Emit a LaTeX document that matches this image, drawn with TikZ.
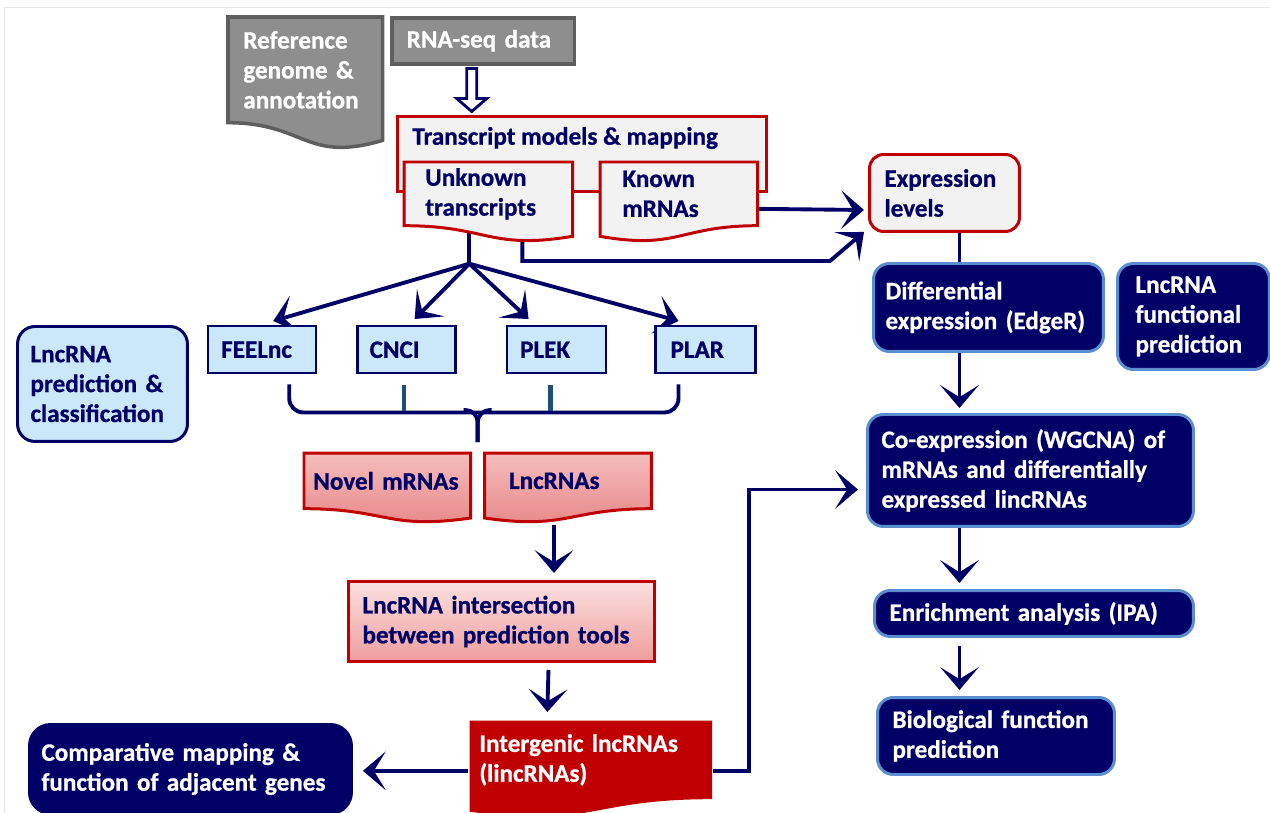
\documentclass[tikz,border=0pt]{standalone}
\usepackage{fontspec}
\setmainfont{Carlito}[BoldFeatures={FakeBold=0.8}]
\hyphenpenalty=10000
\exhyphenpenalty=10000
\definecolor{lnnavy}{HTML}{000066}
\definecolor{lnred}{HTML}{C00000}
\definecolor{lnpaper}{HTML}{F2F2F2}
\definecolor{lngray}{HTML}{8E8E8E}
\definecolor{lngrayline}{HTML}{5E5E5E}
\definecolor{lnsky}{HTML}{CBE8FB}
\definecolor{lnedge}{HTML}{5A8ED0}
\definecolor{lnpinktop}{HTML}{F4BDBD}
\definecolor{lnpinkbot}{HTML}{E78585}
\definecolor{lnrosetop}{HTML}{FBE0E0}
\definecolor{lnrosebot}{HTML}{EE9C9C}
\definecolor{lntick}{HTML}{1F4E79}
\usetikzlibrary{arrows.meta,positioning,calc}

\pgfdeclarelayer{back}
\pgfdeclarelayer{docs}
\pgfsetlayers{back,docs,main}

% document shape, right end lower
\newcommand\docwaveR[2]{%
  \path[#2] let \p1=(#1.north west), \p2=(#1.south east), \n1={\y1-\y2} in
    (\x1,\y1) -- (\x2,\y1) -- (\x2,{\y2-0.167*\n1})
    .. controls ({0.5*\x1+0.5*\x2},{\y2-0.384*\n1}) and ({0.5*\x1+0.5*\x2},\y2) .. (\x1,\y2) -- cycle;}
% document shape, left end lower
\newcommand\docwaveL[2]{%
  \path[#2] let \p1=(#1.north west), \p2=(#1.south east), \n1={\y1-\y2} in
    (\x1,\y1) -- (\x2,\y1) -- (\x2,\y2)
    .. controls ({0.5*\x1+0.5*\x2},\y2) and ({0.5*\x1+0.5*\x2},{\y2-0.384*\n1}) .. (\x1,{\y2-0.167*\n1}) -- cycle;}

\begin{document}
\begin{tikzpicture}[
  x=0.02cm, y=-0.02cm,
  box/.style={anchor=north west, inner ysep=0pt, align=left,
    font=\fontsize{14.3}{17}\selectfont\bfseries, text=lnnavy},
  graybox/.style={box, draw=lngrayline, fill=lngray, line width=2pt, text=white},
  light/.style={box, draw=lnred, fill=lnpaper, line width=1.7pt},
  tool/.style={box, draw=lnnavy, fill=lnsky, line width=1.4pt, minimum height=0.94cm},
  dark/.style={box, draw=lnedge, fill=lnnavy, text=white, line width=1.7pt, rounded corners=9pt},
  doctext/.style={box, draw=none},
  wire/.style={draw=lnnavy, line width=2.2pt},
  arr/.style={wire, arrows={-Stealth[length=13pt,width=22pt,inset=6.8pt]}},
  hollow/.style={draw=lnnavy, fill=white, line width=1.6pt},
  tick/.style={draw=lntick, line width=2.4pt}
]
  \useasboundingbox (0,0) rectangle (1270,812);
  \draw[gray!20] (4,7) rectangle (1290,830);

  % Inputs
  \node[doctext, text=white, text width=2.48cm, inner xsep=0.3cm, minimum height=2.1cm] (ref) at (228,17)
    {Reference\\genome \&\\annotation};
  \node[graybox, text width=3.06cm, inner xsep=0.3cm, minimum height=0.92cm] (rna) at (390,16) {RNA-seq data};

  % Mapping
  \begin{pgfonlayer}{back}
    \node[light, minimum width=7.38cm, minimum height=1.5cm, inner sep=0pt] (tm) at (396,115) {};
  \end{pgfonlayer}
  \node[box, anchor=west, inner sep=0pt] (tmt) at (412,138) {Transcript models \& mapping};
  \node[doctext, text width=2.52cm, inner xsep=0.42cm, minimum height=1.26cm] (unk) at (404,162)
    {Unknown\\transcripts};
  \node[doctext, text width=2.26cm, inner xsep=0.44cm, minimum height=1.26cm] (kno) at (600,162)
    {Known\\mRNAs};
  \node[light, rounded corners=8pt, text width=2.4cm, inner xsep=0.3cm, minimum height=1.54cm] (expr) at (868,153)
    {Expression\\levels};

  % Prediction tools
  \node[box, draw=lnnavy, fill=lnsky, line width=1.7pt, rounded corners=10pt, text width=2.88cm,
    inner xsep=0.26cm, minimum height=2.3cm] (lpc) at (16,325) {LncRNA\\prediction \&\\classification};
  \node[tool, text width=1.64cm, inner xsep=0.26cm] (feel) at (207,325) {FEELnc};
  \node[tool, text width=1.48cm, inner xsep=0.24cm, right=0.78cm of feel] (cnci) {CNCI};
  \node[tool, text width=1.46cm, inner xsep=0.26cm, right=0.98cm of cnci] (plek) {PLEK};
  \node[tool, text width=1.4cm, inner xsep=0.3cm, right=0.94cm of plek] (plar) {PLAR};

  % Classified transcripts
  \node[doctext, text width=2.96cm, inner xsep=0.18cm, minimum height=1.1cm] (novel) at (304,453) {Novel mRNAs};
  \node[doctext, text width=2.36cm, inner xsep=0.48cm, minimum height=1.1cm, right=0.28cm of novel] (lnc) {LncRNAs};
  \node[box, draw=lnred, line width=1.7pt, top color=lnrosetop, bottom color=lnrosebot, text width=5.56cm,
    inner xsep=0.28cm, minimum height=1.6cm] (inter) at (347,580) {LncRNA intersection\\between prediction tools};
  \node[doctext, text=white, text width=4.46cm, inner xsep=0.16cm, minimum height=1.5cm] (ilnc) at (471,722)
    {Intergenic lncRNAs\\(lincRNAs)};
  \node[dark, draw=lnnavy, rounded corners=12pt, text width=5.96cm, inner xsep=0.24cm, minimum height=1.78cm] (comp) at (28,723)
    {Comparative mapping \&\\function of adjacent genes};

  % Expression analysis
  \node[dark, text width=4.12cm, inner xsep=0.24cm, minimum height=1.76cm] (dif) at (872,262)
    {Differential\\expression (EdgeR)};
  \node[dark, text width=2.32cm, inner xsep=0.36cm, minimum height=2.12cm] (lfp) at (1116,262)
    {LncRNA\\functional\\prediction};
  \node[dark, text width=5.96cm, inner xsep=0.28cm, minimum height=2.24cm] (coe) at (866,413)
    {Co-expression (WGCNA) of\\mRNAs and differentially\\expressed lincRNAs};
  \node[dark, text width=5.78cm, inner xsep=0.3cm, minimum height=0.92cm] (enr) at (873,589)
    {Enrichment analysis (IPA)};
  \node[dark, text width=4.14cm, inner xsep=0.3cm, minimum height=1.54cm] (bio) at (876,696)
    {Biological function\\prediction};

  % Document outlines
  \begin{pgfonlayer}{docs}
    \docwaveR{ref}{draw=lngrayline, fill=lngray, line width=2pt}
    \docwaveR{unk}{draw=lnred, fill=lnpaper, line width=1.7pt}
    \docwaveL{kno}{draw=lnred, fill=lnpaper, line width=1.7pt}
    \docwaveR{novel}{draw=lnred, top color=lnpinktop, bottom color=lnpinkbot, line width=1.7pt}
    \docwaveL{lnc}{draw=lnred, top color=lnpinktop, bottom color=lnpinkbot, line width=1.7pt}
    \docwaveL{ilnc}{draw=lnred, fill=lnred, line width=1.7pt}
  \end{pgfonlayer}

  % Connectors
  \begin{pgfonlayer}{back}
    \draw[hollow] ($(rna.south)+(-16.5,3)$) -- ++(0,30) -- ++(-10,0) -- ++(15,13) -- ++(15,-13)
      -- ++(-10,0) -- ++(0,-30) -- cycle;
    \draw[arr] ($(kno.east)+(0,15)$) -- ($(expr.west)+(-4,17)$);
    \draw[arr] ($(unk.south)+(34,0)$) |- ($(expr.south west)+(-38,28)$) -- ($(expr.south west)+(-4,-1)$);

    \draw[wire] ($(unk.south)+(-19,0)$) -- coordinate[pos=1] (hub) ($(unk.south)+(-19,38)$);
    \draw[arr] (hub) -- ($(feel.north)+(11,-4)$);
    \draw[arr] (hub) -- ($(cnci.north)+(8,-6)$);
    \draw[arr] (hub) -- ($(plek.north)+(-28,-6)$);
    \draw[arr] (hub) -- ($(plar.north)+(-27,-4)$);

    % brace over the tools
    \coordinate (bt) at ($(novel.north east)!0.5!(lnc.north west)+(0,-11)$);
    \draw[wire, rounded corners=8pt] ($(feel.south)+(27,10)$) -- ($(feel.south)+(27,38)$)
      -- ($(plar.south)+(-27,38)$) -- ($(plar.south)+(-27,10)$);
    \draw[wire, rounded corners=7pt] ($(bt)+(-14,-32)$) -| (bt);
    \draw[wire, rounded corners=7pt] ($(bt)+(14,-32)$) -| (bt);
    \draw[tick] ($(cnci.south)+(-3,11)$) -- ($(cnci.south)+(-3,37)$);
    \draw[tick] ($(plek.south)+(-6,11)$) -- ($(plek.south)+(-6,37)$);

    \draw[arr] ($(lnc.south)+(-14,16)$) -- ($(inter.north -| lnc.south)+(-14,-7)$);
    \draw[arr] ($(inter.south)+(47,7)$) -- ($(ilnc.north)+(-43.5,-10)$);
    \draw[arr] ($(ilnc.west)+(-3,11)$) -- ($(comp.east |- ilnc.west)+(10,11)$);
    \draw[arr] ($(ilnc.east)+(2,11)$) -- ++(36,0) |- ($(coe.west)+(-8,19)$);

    % right column
    \coordinate (sp) at ($(expr.south)+(15,0)$);
    \draw[wire] (sp) -- (sp |- dif.north);
    \draw[arr] (sp |- dif.south) -- ($(sp |- coe.north)+(0,-5)$);
    \draw[arr] (sp |- coe.south) -- ($(sp |- enr.north)+(0,-6)$);
    \draw[arr] ($(sp |- enr.south)+(0,8)$) -- ($(sp |- bio.north)+(0,-6)$);
  \end{pgfonlayer}
\end{tikzpicture}
\end{document}
